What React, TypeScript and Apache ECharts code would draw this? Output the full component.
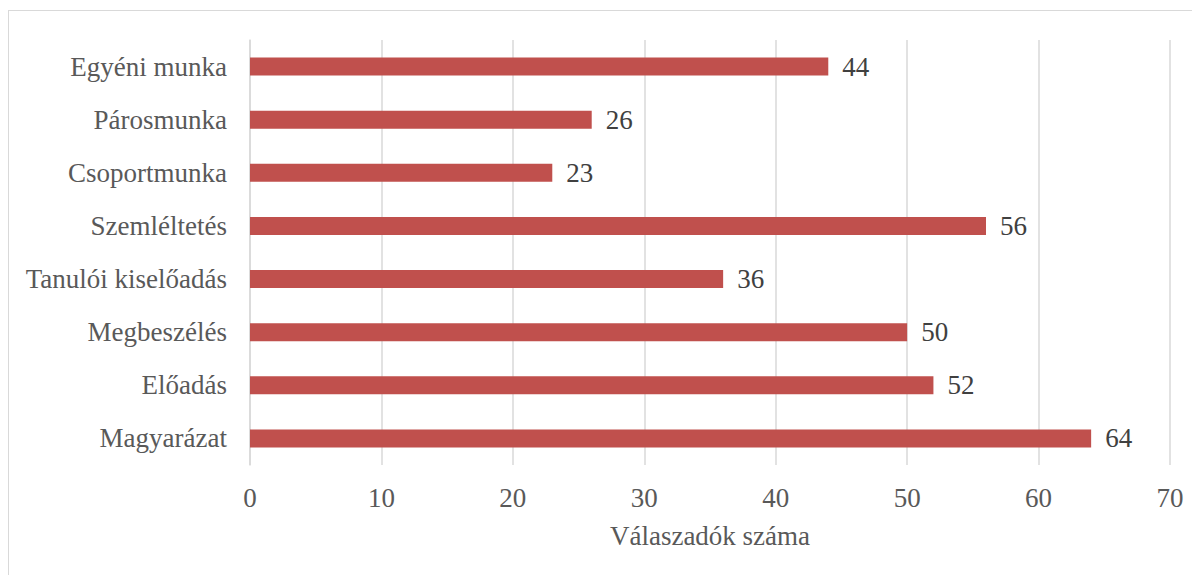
import React, { useEffect, useRef } from "react";
import * as echarts from "echarts";

const categories = [
  "Magyarázat",
  "Előadás",
  "Megbeszélés",
  "Tanulói kiselőadás",
  "Szemléltetés",
  "Csoportmunka",
  "Párosmunka",
  "Egyéni munka",
];
const values = [64, 52, 50, 36, 56, 23, 26, 44];
const xTicks = { min: 0, max: 70, interval: 10 };
const axisTitle = "Válaszadók száma";

const FONT = "Liberation Serif";
const FS = 27;

export default function App() {
  const ref = useRef<HTMLDivElement>(null);
  useEffect(() => {
    if (!ref.current) return;
    const chart = echarts.init(ref.current, null, { renderer: "svg" });
    chart.setOption({
      animation: false,
      textStyle: { fontFamily: FONT },
      grid: { left: 241, top: 29, width: 920, height: 425 },
      xAxis: {
        type: "value",
        min: xTicks.min,
        max: xTicks.max,
        interval: xTicks.interval,
        name: axisTitle,
        nameLocation: "middle",
        nameGap: 57,
        nameTextStyle: { fontFamily: FONT, fontSize: FS, color: "#595959" },
        axisLine: { show: false },
        axisTick: { show: false },
        axisLabel: { fontFamily: FONT, fontSize: FS, color: "#595959", margin: 19 },
        splitLine: { show: true, lineStyle: { color: "#d9d9d9", width: 1.5 } },
      },
      yAxis: {
        type: "category",
        data: categories,
        axisLine: { show: true, lineStyle: { color: "#d9d9d9", width: 1.5 } },
        axisTick: { show: false },
        axisLabel: { fontFamily: FONT, fontSize: FS, color: "#595959", margin: 23 },
      },
      series: [
        {
          type: "bar",
          data: values,
          barWidth: 18,
          itemStyle: { color: "#c0504d" },
          label: {
            show: true,
            position: "right",
            distance: 14,
            fontFamily: FONT,
            fontSize: FS,
            fontWeight: "normal",
            color: "#404040",
          },
        },
      ],
    });
    return () => chart.dispose();
  }, []);
  return (
    <div
      ref={ref}
      style={{
        width: 1184,
        height: 575,
        marginTop: 2,
        border: "1px solid #d9d9d9",
        background: "#fff",
      }}
    />
  );
}
